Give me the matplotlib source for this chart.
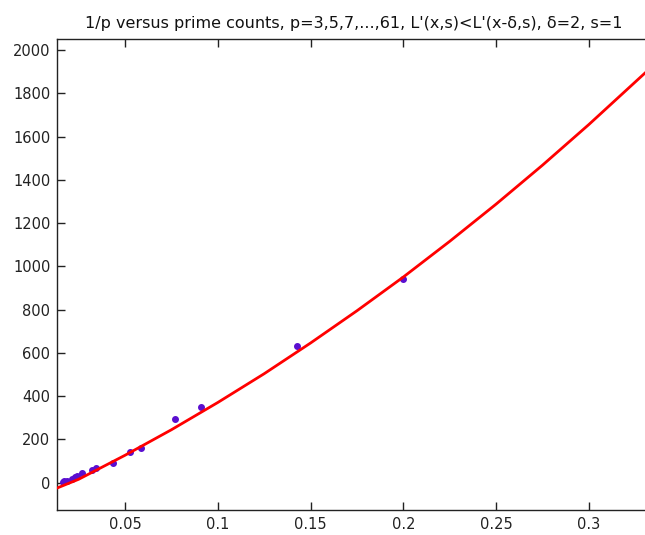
import matplotlib
matplotlib.use("Agg")
import matplotlib.pyplot as plt

# Data points: 1/p versus prime counts (p = 5 .. 61)
primes = [5, 7, 11, 13, 17, 19, 23, 29, 31, 37, 41, 43, 47, 53, 59, 61]
counts = [940, 632, 352, 294, 163, 143, 90, 68, 59, 45, 33, 25, 17, 10, 6, 5]

# Red fitted curve
curve_x = [0.0135, 0.025, 0.05, 0.075, 0.1, 0.125, 0.15, 0.175, 0.2,
           0.225, 0.25, 0.275, 0.3, 0.3333]
curve_y = [-24, 16, 127, 245, 371, 504, 646, 795, 951,
           1116, 1288, 1468, 1656, 1918]

xticks = [0.05, 0.1, 0.15, 0.2, 0.25, 0.3]
xticklabels = ["0.05", "0.1", "0.15", "0.2", "0.25", "0.3"]
yticks = [0, 200, 400, 600, 800, 1000, 1200, 1400, 1600, 1800, 2000]

plt.rcParams['font.family'] = ['DejaVu Sans']

fig = plt.figure(figsize=(6.45, 5.35), dpi=100)
ax = fig.add_axes([0.0888, 0.0467, 0.9200, 0.8798])

inv_p = [1.0 / p for p in primes]
ax.plot(inv_p, counts, linestyle='none', marker='o', markersize=4,
        color='#5a0fd0', zorder=2)
ax.plot(curve_x, curve_y, color='#ff0000', linewidth=2.0, zorder=3)

ax.set_xlim(0.0135, 1.0 / 3.0)
ax.set_ylim(-126, 2050)
ax.set_xticks(xticks)
ax.set_xticklabels(xticklabels)
ax.set_yticks(yticks)
ax.tick_params(direction='in', length=6, width=1, colors='#222222',
               labelsize=10.5, top=True, right=False, pad=5)
for s in ax.spines.values():
    s.set_color('#222222')
    s.set_linewidth(1)

ax.set_title("1/p versus prime counts, p=3,5,7,...,61, L'(x,s)<L'(x-δ,s), δ=2, s=1",
             fontsize=11.5, pad=8, color='#111111')

fig.savefig("out.png", dpi=100)
